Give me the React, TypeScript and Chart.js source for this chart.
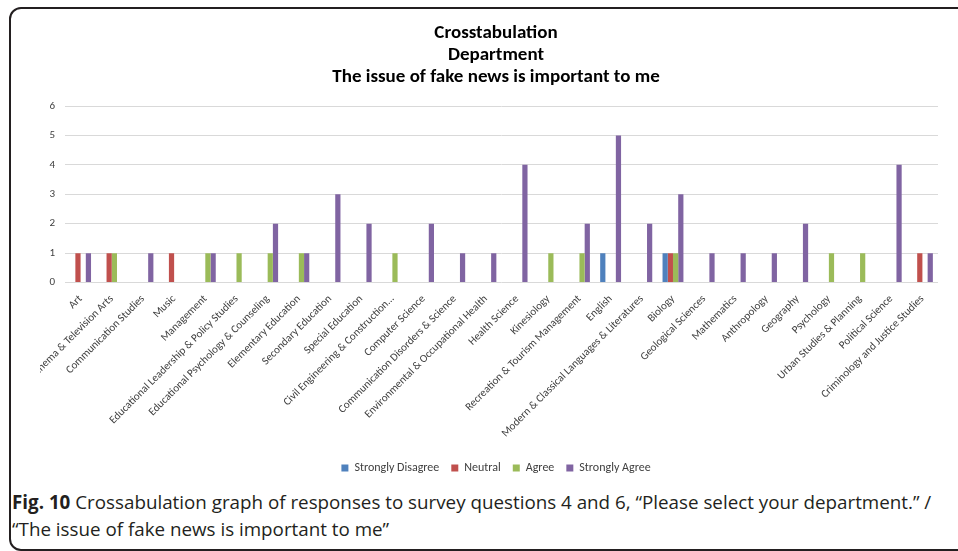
import React, { useEffect, useRef } from "react";
import { Chart, registerables } from "chart.js";

Chart.register(...registerables);

// Departments surveyed (x-axis categories)
const departments: string[] = [
  "Art",
  "Cinema & Television Arts",
  "Communication Studies",
  "Music",
  "Management",
  "Educational Leadership & Policy Studies",
  "Educational Psychology & Counseling",
  "Elementary Education",
  "Secondary Education",
  "Special Education",
  "Civil Engineering & Construction…",
  "Computer Science",
  "Communication Disorders & Science",
  "Environmental & Occupational Health",
  "Health Science",
  "Kinesiology",
  "Recreation & Tourism Management",
  "English",
  "Modern & Classical Languages & Literatures",
  "Biology",
  "Geological Sciences",
  "Mathematics",
  "Anthropology",
  "Geography",
  "Psychology",
  "Urban Studies & Planning",
  "Political Science",
  "Criminology and Justice Studies",
];

// Response counts per department
const stronglyDisagree: number[] = [0, 0, 0, 0, 0, 0, 0, 0, 0, 0, 0, 0, 0, 0, 0, 0, 0, 1, 0, 1, 0, 0, 0, 0, 0, 0, 0, 0];
const neutral: number[] = [1, 1, 0, 1, 0, 0, 0, 0, 0, 0, 0, 0, 0, 0, 0, 0, 0, 0, 0, 1, 0, 0, 0, 0, 0, 0, 0, 1];
const agree: number[] = [0, 1, 0, 0, 1, 1, 1, 1, 0, 0, 1, 0, 0, 0, 0, 1, 1, 0, 0, 1, 0, 0, 0, 0, 1, 1, 0, 0];
const stronglyAgree: number[] = [1, 0, 1, 0, 1, 0, 2, 1, 3, 2, 0, 2, 1, 1, 4, 0, 2, 5, 2, 3, 1, 1, 1, 2, 0, 0, 4, 1];

const seriesNames: string[] = ["Strongly Disagree", "Neutral", "Agree", "Strongly Agree"];
const seriesColors: string[] = ["#4F81BD", "#C0504D", "#9BBB59", "#8064A2"];

const titleLines: string[] = [
  "Crosstabulation",
  "Department",
  "The issue of fake news is important to me",
];

const yTicks: number[] = [0, 1, 2, 3, 4, 5, 6];

const FONT = "Carlito, 'Liberation Sans Narrow', 'Open Sans', sans-serif";

// Nudges the title and legend so they sit centred over the whole frame
// rather than over the plot area only.
const centreShift = {
  id: "centreShift",
  afterLayout(chart: any) {
    const dx = 7;
    for (const box of [chart.legend, chart.titleBlock]) {
      if (box) {
        box.left += dx;
        box.right += dx;
      }
    }
  },
};

export default function App() {
  const canvasRef = useRef<HTMLCanvasElement | null>(null);

  useEffect(() => {
    document.body.style.margin = "0";
    const canvas = canvasRef.current;
    if (!canvas) return;
    const values = [stronglyDisagree, neutral, agree, stronglyAgree];
    const chart = new Chart(canvas, {
      type: "bar",
      data: {
        labels: departments,
        datasets: seriesNames.map((name, i) => ({
          label: name,
          data: values[i],
          backgroundColor: seriesColors[i],
          borderWidth: 0,
          barPercentage: 1,
          categoryPercentage: 0.67,
        })),
      },
      plugins: [centreShift],
      options: {
        responsive: false,
        animation: false,
        maintainAspectRatio: false,
        layout: { padding: { left: 0, right: 4, top: 0, bottom: 4 } },
        plugins: {
          title: {
            display: true,
            text: titleLines,
            color: "#000000",
            font: { family: FONT, size: 19, weight: "bold", lineHeight: 1.158 },
            padding: { top: 12, bottom: 18 },
          },
          legend: {
            display: true,
            position: "bottom",
            labels: {
              boxWidth: 7,
              boxHeight: 7,
              color: "#404040",
              font: { family: FONT, size: 12 },
              padding: 12,
            },
          },
          tooltip: { enabled: false },
        },
        scales: {
          x: {
            grid: { display: false },
            border: { display: false },
            afterFit: (scale: any) => {
              scale.height += 8;
            },
            ticks: {
              autoSkip: false,
              minRotation: 45,
              maxRotation: 45,
              padding: 2,
              color: "#404040",
              font: { family: FONT, size: 11 },
            },
          },
          y: {
            min: 0,
            max: 6,
            afterFit: (scale: any) => {
              scale.width = 25;
            },
            afterBuildTicks: (scale: any) => {
              scale.ticks = yTicks.map((v) => ({ value: v }));
            },
            grid: { color: "#D9D9D9", drawTicks: false, lineWidth: 1 },
            border: { display: false },
            ticks: {
              padding: 10,
              color: "#404040",
              font: { family: FONT, size: 11 },
            },
          },
        },
      },
    });
    return () => chart.destroy();
  }, []);

  return (
    <div
      style={{
        position: "relative",
        width: 958,
        height: 551,
        overflow: "hidden",
        background: "#ffffff",
      }}
    >
      <div
        style={{
          position: "absolute",
          left: 9,
          top: 7,
          width: 1000,
          height: 540,
          border: "2px solid #231f20",
          borderRadius: 12,
        }}
      />
      <canvas
        ref={canvasRef}
        width={902}
        height={478}
        style={{ position: "absolute", left: 40, top: 10, width: 902, height: 478 }}
      />
      <div
        style={{
          position: "absolute",
          left: 12,
          top: 489,
          width: 940,
          fontFamily: "'Liberation Sans Narrow', 'Open Sans', sans-serif",
          fontSize: 18.8,
          lineHeight: "27px",
          color: "#231f20",
          whiteSpace: "nowrap",
        }}
      >
        <div>
          <b>Fig. 10</b> Crossabulation graph of responses to survey questions 4 and 6, “Please select your department.” /
        </div>
        <div>“The issue of fake news is important to me”</div>
      </div>
    </div>
  );
}
